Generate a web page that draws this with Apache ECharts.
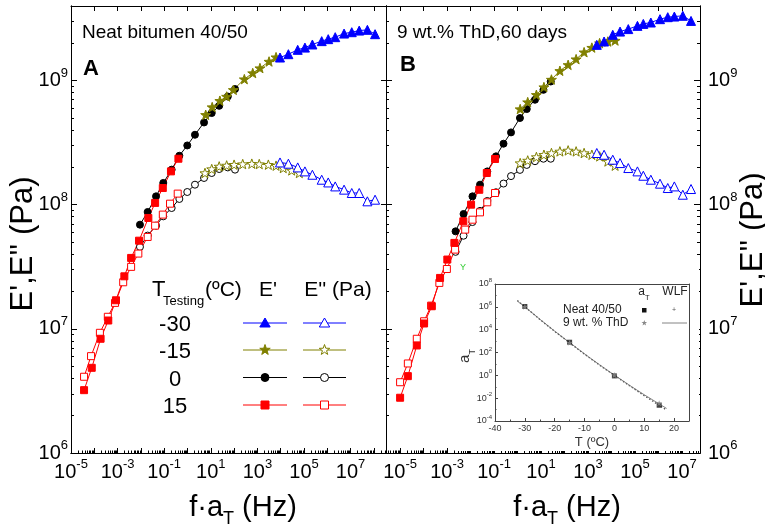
<!DOCTYPE html>
<html><head><meta charset="utf-8">
<script src="https://cdn.jsdelivr.net/npm/echarts@6/dist/echarts.min.js"></script>
<style>html,body{margin:0;padding:0;background:#fff}#c{width:765px;height:526px}</style>
</head><body><div id="c"></div>
<script>
// ---------- DATA (log10 of f·aT in Hz, log10 of modulus in Pa) ----------
// Panel A : Neat bitumen 40/50
const A_m30_f  = [3.97,4.33,4.73,5.04,5.36,5.76,6.04,6.34,6.72,7.05,7.37,7.72,8.05];
const A_m30_E1 = [9.185,9.212,9.247,9.265,9.29,9.317,9.333,9.349,9.378,9.389,9.402,9.408,9.373];
const A_m30_E2 = [8.340,8.330,8.300,8.268,8.241,8.201,8.179,8.147,8.121,8.094,8.094,8.027,8.040];
const A_m15_f1 = [0.78,1.06,1.39,1.68,1.97,2.44,2.80,3.11,3.50,3.80];
const A_m15_E1 = [8.724,8.786,8.837,8.871,8.925,9.011,9.06,9.10,9.153,9.188];
const A_m15_f2 = [0.75,1.04,1.36,1.68,2.0,2.37,2.76,3.08,3.47,3.80,4.11,4.47,4.80];
const A_m15_E2 = [8.255,8.287,8.308,8.316,8.322,8.327,8.330,8.327,8.322,8.314,8.295,8.276,8.255];
const A_0_f    = [-2.04,-1.71,-1.35,-1.04,-0.68,-0.35,-0.01,0.32,0.71,1.04,1.36,1.73,2.04];
const A_0_E1   = [7.839,7.941,8.067,8.175,8.282,8.394,8.477,8.563,8.662,8.738,8.796,8.871,8.931];
const A_0_E2   = [7.660,7.751,7.831,7.906,7.973,8.046,8.102,8.161,8.215,8.255,8.287,8.300,8.282];
const A_15_f1  = [-4.44,-4.11,-3.73,-3.40,-3.07,-2.71,-2.42,-2.08,-1.68,-1.39,-1.06,-0.71,-0.39];
const A_15_E1  = [6.506,6.686,6.920,7.067,7.230,7.423,7.571,7.710,7.893,8.014,8.134,8.268,8.370];
const A_15_f2  = [-4.44,-4.14,-3.76,-3.42,-3.11,-2.76,-2.42,-2.11,-1.71,-1.39,-1.06,-0.75,-0.42];
const A_15_E2  = [6.614,6.780,6.968,7.097,7.209,7.375,7.499,7.606,7.740,7.831,7.920,8.008,8.089];
// Panel B : 9 wt.% ThD, 60 days
const B_m30_f  = [3.37,3.68,4.05,4.36,4.71,5.10,5.35,5.67,6.06,6.39,6.67,7.03,7.38];
const B_m30_E1 = [9.287,9.314,9.368,9.394,9.414,9.440,9.456,9.467,9.494,9.510,9.515,9.521,9.480];
const B_m30_E2 = [8.416,8.402,8.362,8.335,8.295,8.268,8.233,8.201,8.169,8.134,8.147,8.080,8.126];
const B_m15_f  = [0.11,0.43,0.80,1.12,1.44,1.80,2.15,2.49,2.83,3.16,3.49,3.84,4.15];
const B_m15_E1 = [8.770,8.826,8.885,8.947,9.008,9.078,9.126,9.172,9.228,9.265,9.301,9.314,9.322];
const B_m15_E2 = [8.335,8.356,8.384,8.402,8.416,8.429,8.437,8.429,8.416,8.402,8.389,8.348,8.314];
const B_0_f    = [-2.64,-2.30,-1.92,-1.60,-1.29,-0.92,-0.60,-0.28,0.10,0.39,0.74,1.10,1.41];
const B_0_E1   = [7.785,7.925,8.067,8.161,8.268,8.389,8.491,8.582,8.698,8.770,8.845,8.925,8.992];
const B_0_E2   = [7.62,7.75,7.86,7.95,8.03,8.10,8.17,8.23,8.28,8.32,8.35,8.37,8.37];
const B_15_f1  = [-5.0,-4.67,-4.29,-3.98,-3.65,-3.30,-2.99,-2.69,-2.31,-1.98,-1.63,-1.31,-0.96];
const B_15_E1  = [6.445,6.619,6.866,7.043,7.182,7.410,7.558,7.692,7.866,8.0,8.120,8.255,8.368];
const B_15_f2  = [-5.0,-4.67,-4.29,-3.98,-3.68,-3.33,-3.01,-2.66,-2.23,-1.92,-1.60,-1.29,-0.96];
const B_15_E2  = [6.570,6.721,6.920,7.061,7.187,7.370,7.482,7.638,7.799,7.879,7.938,8.019,8.094];
// Inset : shift factor aT (log10) vs T (°C)
const inT       = [-30,-15,0,15];
const inNeat    = [6.03,2.90,-0.05,-2.62];
const inThD     = [6.00,2.85,0.02,-2.45];
const wlfT      = [-32.5,-30,-25,-20,-15,-10,-5,0,5,10,15,17.5];
const wlfNeat   = [6.55,6.0,4.9,3.85,2.85,1.85,0.9,0.0,-0.9,-1.78,-2.62,-3.05];
const wlfThD    = [6.5,6.0,4.92,3.87,2.87,1.88,0.93,0.02,-0.86,-1.7,-2.5,-2.9];
// Tick labels (exponents)
const xLabelExp = [-5,-3,-1,1,3,5,7];
const yLabelExp = [6,7,8,9];
const inXLabels = [-40,-30,-20,-10,0,10,20];
const inYLabelExp = [-4,-2,0,2,4,6,8];
// Legend texts
const tempLabels = ['-30','-15','0','15'];

// ---------- STYLE ----------
const FONT = "'Liberation Sans', Arial, sans-serif";
const COL = ['#0000ff','#808000','#000000','#ff0000'];
const STAR = 'path://M0,-10 L2.35,-3.24 L9.51,-3.09 L3.80,1.24 L5.88,8.09 L0,4 L-5.88,8.09 L-3.80,1.24 L-9.51,-3.09 L-2.35,-3.24 Z';
const SYM = ['triangle', STAR, 'circle', 'rect'];
const SYMSIZE = [9, 10, 7, 7];

function decades(a,b){const r=[];for(let n=Math.ceil(a-1e-9);n<=b+1e-9;n++)r.push(n);return r;}
function minors(a,b){const r=[];for(let n=Math.floor(a);n<=b;n++)for(let k=2;k<=9;k++){const v=n+Math.log10(k);if(v>a&&v<b)r.push(v);}return r;}
const expFmt = v => '{b|10}{s|' + Math.round(v) + '}';
const expRich = {b:{fontSize:20,fontFamily:FONT,color:'#000',padding:[4,0,0,0],verticalAlign:'top'},
                 s:{fontSize:13,fontFamily:FONT,color:'#000',verticalAlign:'top'}};
const inRich = {b:{fontSize:9,fontFamily:FONT,color:'#333',padding:[2,0,0,0],verticalAlign:'top'},
                s:{fontSize:6,fontFamily:FONT,color:'#333',verticalAlign:'top'}};

const AX = {lineStyle:{color:'#000',width:1}};
function xaxis(grid,min,max,pos,ticks,len,labels,extra){
  return Object.assign({type:'value',gridIndex:grid,min,max,position:pos,
    axisLine:Object.assign({show:true,onZero:false},AX),
    axisTick:{show:ticks.length>0,inside:true,length:len,customValues:ticks,lineStyle:{color:'#000',width:1}},
    axisLabel:labels?{show:true,customValues:labels,formatter:expFmt,rich:expRich,margin:5}:{show:false},
    splitLine:{show:false}},extra||{});
}
function yaxis(grid,min,max,pos,ticks,len,labels,extra){
  return Object.assign({type:'value',gridIndex:grid,min,max,position:pos,
    axisLine:Object.assign({show:true,onZero:false},AX),
    axisTick:{show:ticks.length>0,inside:true,length:len,customValues:ticks,lineStyle:{color:'#000',width:1}},
    axisLabel:labels?{show:true,customValues:labels,formatter:expFmt,rich:expRich,margin:pos==='left'?3:8,padding:[0,0,4,0]}:{show:false},
    splitLine:{show:false}},extra||{});
}
const AXmin=-5, AXmax=-5+315/23.3, BXmin=-5.6, BXmax=-5.6+314/23.5, Ymin=6, Ymax=9.6;

const xAxes = [
  xaxis(0,AXmin,AXmax,'bottom',decades(AXmin,AXmax),5,xLabelExp),       //0
  xaxis(0,AXmin,AXmax,'bottom',minors(AXmin,AXmax),2.5,null),            //1
  xaxis(0,AXmin,AXmax,'top',decades(AXmin,AXmax),5,null),                //2
  xaxis(1,BXmin,BXmax,'bottom',decades(BXmin,BXmax),5,xLabelExp),       //3
  xaxis(1,BXmin,BXmax,'bottom',minors(BXmin,BXmax),2.5,null),            //4
  xaxis(1,BXmin,BXmax,'top',decades(BXmin,BXmax),5,null),                //5
  {type:'value',gridIndex:2,min:-40,max:25,position:'bottom',z:110,     //6
    axisLine:{show:true,onZero:false,lineStyle:{color:'#444',width:1}},
    axisTick:{show:true,inside:true,length:3,customValues:[-40,-30,-20,-10,0,10,20],lineStyle:{color:'#444'}},
    axisLabel:{show:true,customValues:inXLabels,fontSize:9,color:'#333',fontFamily:FONT,margin:3},
    splitLine:{show:false}},
  {type:'value',gridIndex:2,min:-40,max:25,position:'bottom',z:110,     //7
    axisLine:{show:false,onZero:false},axisTick:{show:true,inside:true,length:1.5,customValues:[-35,-25,-15,-5,5,15,25],lineStyle:{color:'#444'}},
    axisLabel:{show:false},splitLine:{show:false}},
  {type:'value',gridIndex:2,min:-40,max:25,position:'top',z:110,        //8
    axisLine:{show:true,onZero:false,lineStyle:{color:'#444',width:1}},axisTick:{show:false},axisLabel:{show:false},splitLine:{show:false}}
];
const yAxes = [
  yaxis(0,Ymin,Ymax,'left',decades(Ymin,Ymax),6,yLabelExp),      //0
  yaxis(0,Ymin,Ymax,'left',minors(Ymin,Ymax),3,null),            //1
  yaxis(0,Ymin,Ymax,'right',decades(Ymin,Ymax),5,null),          //2
  yaxis(1,Ymin,Ymax,'left',decades(Ymin,Ymax),6,null),           //3
  yaxis(1,Ymin,Ymax,'left',minors(Ymin,Ymax),3,null),            //4
  yaxis(1,Ymin,Ymax,'right',decades(Ymin,Ymax),6,yLabelExp),     //5
  yaxis(1,Ymin,Ymax,'right',minors(Ymin,Ymax),3,null),           //6
  {type:'value',gridIndex:2,min:-4,max:8,position:'left',z:110,   //7
    axisLine:{show:true,onZero:false,lineStyle:{color:'#444',width:1}},
    axisTick:{show:true,inside:true,length:3,customValues:[-4,-2,0,2,4,6,8],lineStyle:{color:'#444'}},
    axisLabel:{show:true,customValues:inYLabelExp,formatter:expFmt,rich:inRich,margin:3,padding:[0,0,2,0]},
    splitLine:{show:false}},
  {type:'value',gridIndex:2,min:-4,max:8,position:'left',z:110,   //8
    axisLine:{show:false,onZero:false},axisTick:{show:true,inside:true,length:1.5,customValues:[-3,-1,1,3,5,7],lineStyle:{color:'#444'}},
    axisLabel:{show:false},splitLine:{show:false}},
  {type:'value',gridIndex:2,min:-4,max:8,position:'right',z:110,  //9
    axisLine:{show:true,onZero:false,lineStyle:{color:'#444',width:1}},axisTick:{show:false},axisLabel:{show:false},splitLine:{show:false}}
];

function ser(xs,ys,xi,yi,t,filled){
  const c=COL[t];
  return {type:'line',xAxisIndex:xi,yAxisIndex:yi,data:xs.map((x,i)=>[x,ys[i]]),
    symbol:SYM[t],symbolSize:SYMSIZE[t],symbolKeepAspect:true,showSymbol:true,silent:true,
    lineStyle:{color:c,width:1},itemStyle:{color:filled?c:'#ffffff',borderColor:c,borderWidth:1,opacity:1},
    z:3,animation:false};
}
const series = [
  // panel A  (order: 0, 15, -15, -30)
  ser(A_0_f,A_0_E2,0,0,2,false), ser(A_0_f,A_0_E1,0,0,2,true),
  ser(A_15_f2,A_15_E2,0,0,3,false), ser(A_15_f1,A_15_E1,0,0,3,true),
  ser(A_m15_f2,A_m15_E2,0,0,1,false), ser(A_m15_f1,A_m15_E1,0,0,1,true),
  ser(A_m30_f,A_m30_E2,0,0,0,false), ser(A_m30_f,A_m30_E1,0,0,0,true),
  // panel B
  ser(B_0_f,B_0_E2,3,3,2,false), ser(B_0_f,B_0_E1,3,3,2,true),
  ser(B_15_f2,B_15_E2,3,3,3,false), ser(B_15_f1,B_15_E1,3,3,3,true),
  ser(B_m15_f,B_m15_E2,3,3,1,false), ser(B_m15_f,B_m15_E1,3,3,1,true),
  ser(B_m30_f,B_m30_E2,3,3,0,false), ser(B_m30_f,B_m30_E1,3,3,0,true),
  // inset
  {type:'line',xAxisIndex:6,yAxisIndex:7,data:wlfT.map((x,i)=>[x,wlfNeat[i]]),showSymbol:false,silent:true,
    lineStyle:{color:'#555',width:1.3,type:[1.5,2]},z:120,animation:false},
  {type:'line',xAxisIndex:6,yAxisIndex:7,data:wlfT.map((x,i)=>[x,wlfThD[i]]),showSymbol:false,silent:true,
    lineStyle:{color:'#666',width:0.8},z:120,animation:false},
  {type:'scatter',xAxisIndex:6,yAxisIndex:7,data:inT.map((x,i)=>[x,inNeat[i]]),symbol:'rect',symbolSize:5,silent:true,
    itemStyle:{color:'#111'},z:121,animation:false},
  {type:'scatter',xAxisIndex:6,yAxisIndex:7,data:inT.map((x,i)=>[x,inThD[i]]),symbol:STAR,symbolSize:6,silent:true,
    itemStyle:{color:'#888',opacity:0.85},z:122,animation:false}
];

// ---------- GRAPHIC (titles, annotations, legend) ----------
function T(text,x,y,size,opts){
  opts = opts||{};
  const st = opts.style||{};
  const el = {type:'text',x,y,z:10,silent:true,
    style:Object.assign({text,fontSize:size,fontFamily:FONT,fill:'#000',align:'left',verticalAlign:'middle'},st)};
  Object.keys(opts).forEach(k=>{ if(k!=='style') el[k]=opts[k]; });
  return el;
}
function starPts(cx,cy,R){const p=[];for(let i=0;i<10;i++){const a=-Math.PI/2+i*Math.PI/5,r=i%2?R*0.4:R;p.push([cx+r*Math.cos(a),cy+r*Math.sin(a)]);}return p;}
function icon(t,cx,cy,filled){
  const c=COL[t], st={fill:filled?c:'#fff',stroke:c,lineWidth:1};
  if(t===0) return {type:'polygon',shape:{points:[[cx,cy-5],[cx+5.2,cy+4],[cx-5.2,cy+4]]},style:st,z:12,silent:true};
  if(t===1) return {type:'polygon',shape:{points:starPts(cx,cy,5.5)},style:st,z:12,silent:true};
  if(t===2) return {type:'circle',shape:{cx,cy,r:4},style:st,z:12,silent:true};
  return {type:'rect',shape:{x:cx-4,y:cy-4,width:8,height:8},style:st,z:12,silent:true};
}
const graphics = [];
// axis titles
graphics.push(T("E',E'' (Pa)",23,244,31,{rotation:Math.PI/2,style:{align:'center'}}));
graphics.push(T("E',E'' (Pa)",753,240,31,{rotation:Math.PI/2,style:{align:'center'}}));
const faRich = {n:{fontSize:29,fontFamily:FONT,lineHeight:30,verticalAlign:'top'},t:{fontSize:18,fontFamily:FONT,lineHeight:35,verticalAlign:'bottom'}};
graphics.push({type:'text',x:243,y:510.5,z:10,silent:true,style:{text:'{n|f\u00b7a}{t|T}{n| (Hz)}',rich:faRich,align:'center',verticalAlign:'middle',fill:'#000'}});
graphics.push({type:'text',x:567,y:510.5,z:10,silent:true,style:{text:'{n|f\u00b7a}{t|T}{n| (Hz)}',rich:faRich,align:'center',verticalAlign:'middle',fill:'#000'}});
// panel annotations
graphics.push(T('Neat bitumen 40/50',82,33,19));
graphics.push(T('A',83,69,22,{style:{fontWeight:'bold'}}));
graphics.push(T('9 wt.% ThD,60 days',397,33,19));
graphics.push(T('B',400,65,22,{style:{fontWeight:'bold'}}));
// legend table in panel A
graphics.push(T('T',152,290,22));
graphics.push(T('Testing',163,301,13));
graphics.push(T('(\u00baC)',205,290,21));
graphics.push(T("E'",268,290,21,{style:{align:'center'}}));
graphics.push(T("E'' (Pa)",338,290,21,{style:{align:'center'}}));
const rowY=[323,350,377.5,405];
tempLabels.forEach((lab,i)=>{
  graphics.push(T(lab,175,rowY[i]+2,22,{style:{align:'center'}}));
  graphics.push({type:'line',shape:{x1:243,y1:rowY[i],x2:287,y2:rowY[i]},style:{stroke:COL[i],lineWidth:1},z:11,silent:true});
  graphics.push({type:'line',shape:{x1:303,y1:rowY[i],x2:346,y2:rowY[i]},style:{stroke:COL[i],lineWidth:1},z:11,silent:true});
  graphics.push(icon(i,265,rowY[i],true));
  graphics.push(icon(i,324.5,rowY[i],false));
});
// inset background and texts
graphics.push({type:'rect',shape:{x:458,y:263,width:241,height:188},style:{fill:'#fff'},z:100,silent:true});
graphics.push({type:'text',x:467,y:356,rotation:Math.PI/2,z:130,silent:true,style:{text:'{a|a}{t|T}',rich:{a:{fontSize:15,fontFamily:FONT,verticalAlign:'top',fill:'#333'},t:{fontSize:9,fontFamily:FONT,lineHeight:20,verticalAlign:'bottom',fill:'#333'}},align:'center',verticalAlign:'middle'}});
graphics.push(T('T (\u00baC)',592,442,13,{z:130,style:{align:'center',fill:'#333'}}));
graphics.push({type:'text',x:644,y:294,z:130,silent:true,style:{text:'{a|a}{t|T}',rich:{a:{fontSize:12,fontFamily:FONT,verticalAlign:'top',fill:'#222'},t:{fontSize:7.5,fontFamily:FONT,lineHeight:16,verticalAlign:'bottom',fill:'#222'}},align:'center',verticalAlign:'middle'}});
graphics.push(T('WLF',675,292,12,{z:130,style:{align:'center',fill:'#222'}}));
graphics.push(T('Neat 40/50',563,310,12,{z:130,style:{fill:'#222'}}));
graphics.push(T('9 wt. % ThD',563,323,12,{z:130,style:{fill:'#222'}}));
graphics.push({type:'rect',shape:{x:642,y:308,width:4.5,height:4.5},style:{fill:'#111'},z:130,silent:true});
graphics.push(T('+',674,310,7,{z:130,style:{align:'center',fill:'#555'}}));
graphics.push({type:'polygon',shape:{points:starPts(644.3,323,3)},style:{fill:'#888'},z:130,silent:true});
graphics.push({type:'line',shape:{x1:662,y1:323,x2:687,y2:323},style:{stroke:'#666',lineWidth:0.8},z:130,silent:true});
graphics.push(T('Y',463,268,9,{z:131,style:{fill:'#33cc33',align:'center'}}));

const chart = echarts.init(document.getElementById('c'),null,{renderer:'canvas'});
chart.setOption({
  animation:false,
  backgroundColor:'#fff',
  textStyle:{fontFamily:FONT},
  grid:[{left:71,top:6,width:315,height:447},{left:386,top:6,width:314,height:447},{left:495,top:284,width:194,height:137,z:105}],
  xAxis:xAxes, yAxis:yAxes, series, graphic:graphics
});
</script></body></html>
